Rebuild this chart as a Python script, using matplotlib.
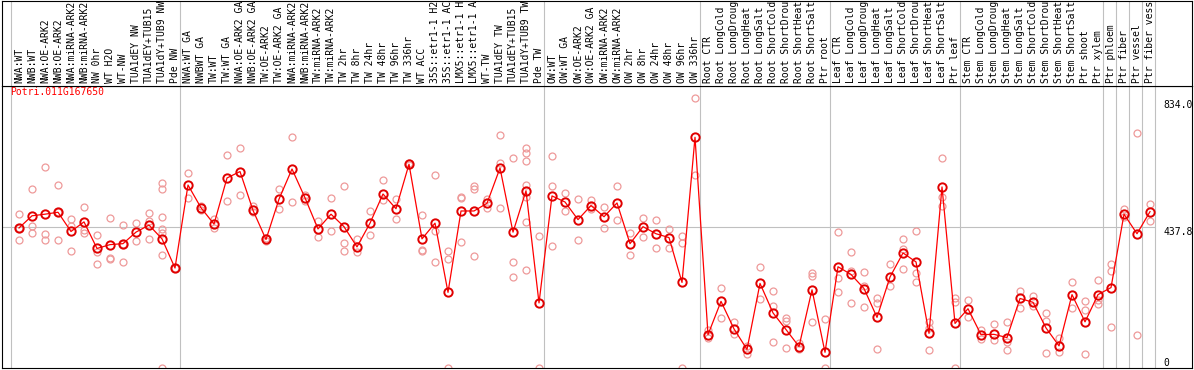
import numpy as np
import matplotlib
matplotlib.use("Agg")
import matplotlib.pyplot as plt
import matplotlib.transforms as mtransforms

gene = "Potri.011G167650"

labels = [
    'NWA:WT', 'NWB:WT', 'NWA:OE-ARK2', 'NWB:OE-ARK2', 'NWA:miRNA-ARK2', 'NWB:miRNA-ARK2',
    'NW 0hr', 'WT H2O', 'WT-NW', 'TUA1dEY NW', 'TUA1dEY+TUB15', 'TUA1dY+TUB9 NW', 'Pde NW',
    'NWA:WT GA', 'NWBWT GA', 'TW:WT', 'TW:WT GA', 'NWA:OE-ARK2 GA', 'NWB:OE-ARK2 GA',
    'TW:OE-ARK2', 'TW:OE-ARK2 GA', 'NWA:miRNA-ARK2', 'NWB:miRNA-ARK2', 'TW:miRNA-ARK2',
    'TW:miRNA-ARK2', 'TW 2hr', 'TW 8hr', 'TW 24hr', 'TW 48hr', 'TW 96hr', 'TW 336hr',
    'WT ACC', '35S::etr1-1 H2O', '35S::etr1-1 ACC', 'LMX5::etr1-1 H2O', 'LMX5::etr1-1 ACC',
    'WT-TW', 'TUA1dEY TW', 'TUA1dEY+TUB15', 'TUA1dY+TUB9 TW', 'Pde TW',
    'OW:WT', 'OW:WT GA', 'OW:OE-ARK2', 'OW:OE-ARK2 GA', 'OW:miRNA-ARK2', 'OW:miRNA-ARK2',
    'OW 2hr', 'OW 8hr', 'OW 24hr', 'OW 48hr', 'OW 96hr', 'OW 336hr',
    'Root CTR', 'Root LongCold', 'Root LongDrought', 'Root LongHeat', 'Root LongSalt',
    'Root ShortCold', 'Root ShortDrought', 'Root ShortHeat', 'Root ShortSalt', 'Ptr root',
    'Leaf CTR', 'Leaf LongCold', 'Leaf LongDrought', 'Leaf LongHeat', 'Leaf LongSalt',
    'Leaf ShortCold', 'Leaf ShortDrought', 'Leaf ShortHeat', 'Leaf ShortSalt', 'Ptr leaf',
    'Stem CTR', 'Stem LongCold', 'Stem LongDrought', 'Stem LongHeat', 'Stem LongSalt',
    'Stem ShortCold', 'Stem ShortDrought', 'Stem ShortHeat', 'Stem ShortSalt',
    'Ptr shoot', 'Ptr xylem', 'Ptr phloem', 'Ptr fiber', 'Ptr vessel', 'Ptr fiber vessel',
]

# first index of each group (vertical separators)
group_starts = [0, 13, 41, 53, 63, 73, 84, 85, 86, 87, 88]

means = [
    436, 474, 479, 485, 425, 455, 372, 384, 387, 423, 445, 402, 311,
    570, 499, 448, 592, 612, 491, 400, 526, 620, 530, 433, 479, 440, 377, 451, 542,
    496, 635, 402, 451, 235, 489, 489, 513, 623, 423, 552, 202,
    536, 517, 462, 506, 471, 514, 387, 440, 418, 406, 266, 719,
    103, 207, 121, 57, 263, 171, 119, 66, 243, 48,
    315, 291, 247, 157, 283, 358, 330, 107, 564, 138,
    184, 103, 104, 94, 216, 204, 124, 68, 228, 143, 228,
    250, 479, 418, 487,
]

reps = [
    [479, 398, 436], [557, 443, 420], [626, 418, 398], [570, 398, 485], [464, 364, 441],
    [502, 431, 420], [415, 362, 322], [467, 342, 339], [445, 330, 387], [451, 395],
    [483, 459, 403], [576, 557, 470, 433, 420, 352, 0], [311],
    [607, 529], [506, 492], [464, 435], [664, 521], [685, 538], [503, 485], [405, 395],
    [557, 495], [719, 518], [539, 519], [459, 409], [529, 428], [567, 390, 364],
    [400, 362], [490, 415], [586, 522], [526, 464], [638, 632], [476, 367, 364],
    [601, 428, 330], [364, 339, 0], [534, 531, 392], [566, 559, 349], [526, 499],
    [725, 640, 499], [654, 330, 283], [686, 669, 644, 570, 532, 455, 305], [411, 0],
    [661, 567, 381], [545, 489], [526, 398], [524, 495], [501, 436], [567, 462],
    [420, 353], [467, 408], [462, 375], [434, 375], [410, 389, 0], [841, 601],
    [119, 93], [248, 156], [143, 106], [68, 44], [314, 213], [240, 194, 81],
    [156, 147, 61], [76, 59], [296, 285, 144], [153, 0],
    [423, 280, 237], [361, 301, 203], [299, 254, 190], [216, 202, 57], [322, 256],
    [400, 370, 308], [428, 295, 268], [143, 124, 56], [654, 532, 504], [218, 204, 0],
    [212, 158], [117, 91], [135, 87], [144, 81, 54], [238, 186], [225, 192],
    [171, 147, 47], [94, 50], [266, 186], [207, 181, 44], [274, 210, 199],
    [325, 301, 126], [495, 469], [733, 103], [512, 459],
]

yticks = [0, 437.8, 834.0]

mono = 'DejaVu Sans Mono'
W, H = 1194, 370
fig = plt.figure(figsize=(W / 100, H / 100), dpi=100)
ax = fig.add_axes([2 / W, 2 / H, 1190 / W, 282 / H])
lab = fig.add_axes([2 / W, 284 / H, 1190 / W, 85 / H])

xmin, xmax = -1.3077, 90.23
for a in (ax, lab):
    a.set_xlim(xmin, xmax)
    a.set_xticks([])
    a.set_yticks([])
    for s in a.spines.values():
        s.set_color('black')
        s.set_linewidth(0.8)
    for b in group_starts:
        a.axvline(b - 0.62, color='#c0c0c0', lw=0.8, zorder=0)
ax.set_ylim(-1, 879)
lab.set_ylim(0, 1)

ax.hlines(yticks[1], xmin, group_starts[-1] - 0.62, color='#c0c0c0', lw=0.8, zorder=0)

x = np.arange(len(means))
for i, r in enumerate(reps):
    ax.plot([i] * len(r), r, 'o', ms=5, mfc='none', mec='#ee9a9a', mew=0.9, zorder=2)
ax.plot(x, means, '-', color='red', lw=0.9, zorder=3)
ax.plot(x, means, 'o', ms=6, mfc='none', mec='#e00000', mew=1.4, zorder=4)

ax.text(88.0, yticks[2], '834.0', ha='left', va='top', fontsize=7, family=mono, clip_on=True)
ax.text(88.0, yticks[1], '437.8', ha='left', va='top', fontsize=7, family=mono, clip_on=True)
ax.text(88.0, yticks[0], '0', ha='left', va='bottom', fontsize=7, family=mono, clip_on=True)

ax.text(-0.7, 875, gene, color='red', ha='left', va='top', fontsize=7, family=mono)

trans = mtransforms.blended_transform_factory(lab.transData, lab.transAxes)
for i, t in enumerate(labels):
    lab.text(i, 0.03, t, rotation=90, ha='center', va='bottom', fontsize=7,
             family=mono, transform=trans, clip_on=True)

fig.savefig('out.png', dpi=100)
